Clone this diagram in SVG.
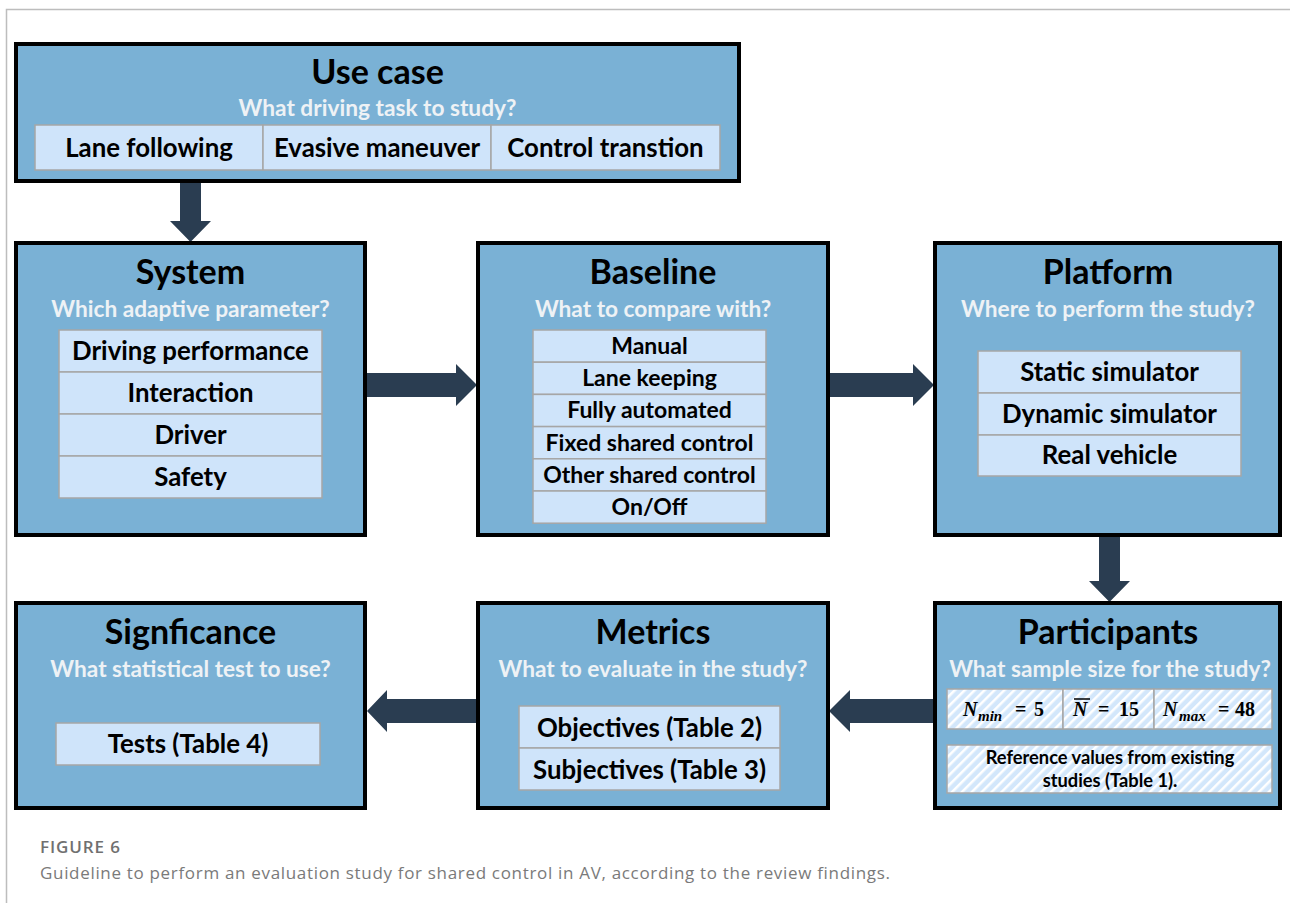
<svg xmlns="http://www.w3.org/2000/svg" width="1290" height="903" viewBox="0 0 1290 903">
<style>
.box{fill:#7ab1d5;stroke:#000;stroke-width:4}
.item{fill:#cfe4fa;stroke:#a6a6a6;stroke-width:1.5}
.hatch{fill:url(#hatch);stroke:#a6a6a6;stroke-width:1.5}
.title{font-family:Lato,"Liberation Sans",sans-serif;font-weight:700;font-size:34px;fill:#000;text-anchor:middle}
.sub{font-family:Lato,"Liberation Sans",sans-serif;font-weight:700;font-size:22.7px;fill:#eef2f5;text-anchor:middle}
.it{font-family:Lato,"Liberation Sans",sans-serif;font-weight:700;font-size:25.8px;fill:#000;text-anchor:middle}
.its{font-family:Lato,"Liberation Sans",sans-serif;font-weight:700;font-size:23px;fill:#000;text-anchor:middle}
.ref{font-family:Lato,"Liberation Sans",sans-serif;font-weight:700;font-size:18.3px;fill:#000;text-anchor:middle}
.m{font-family:"Liberation Serif",serif;font-weight:700;font-size:20px;fill:#000}
.mi{font-style:italic}
.arrow{fill:#2a3d51}
.cap1{font-family:"Open Sans","Liberation Sans",sans-serif;font-size:17px;letter-spacing:0.9px;fill:#707070;font-weight:600}
.cap2{font-family:"Open Sans","Liberation Sans",sans-serif;font-size:17px;letter-spacing:0.68px;fill:#7a7a7a;font-weight:400}
</style>
<defs>
<pattern id="hatch" patternUnits="userSpaceOnUse" width="7" height="7" patternTransform="rotate(45)">
<rect width="7" height="7" fill="#d3e7fb"/>
<rect x="0" y="0" width="2.5" height="7" fill="#ffffff"/>
</pattern>
</defs>
<rect width="1290" height="903" fill="#fff"/>
<path d="M6.5,903 V9.5 H1290" fill="none" stroke="#bdbdbd" stroke-width="1.5"/>

<g id="connectors">
<polygon class="arrow" points="180,183 201,183 201,221 211,221 190.5,242 170,221 180,221"/>
<polygon class="arrow" points="367,373 456,373 456,364 477,385 456,406 456,397 367,397"/>
<polygon class="arrow" points="830,373 913,373 913,364 934,385 913,406 913,397 830,397"/>
<polygon class="arrow" points="1099,537 1120,537 1120,581 1130,581 1109.5,602 1089,581 1099,581"/>
<polygon class="arrow" points="933,699 850,699 850,690 829,711 850,732 850,723 933,723"/>
<polygon class="arrow" points="476,699 387,699 387,690 367,711 387,732 387,723 476,723"/>
</g>

<g id="usecase">
<rect class="box" x="16" y="44" width="723" height="137"/>
<text class="title" x="377.5" y="84">Use case</text>
<text class="sub" x="377.5" y="116">What driving task to study?</text>
<rect class="item" x="35" y="125" width="228" height="45"/>
<rect class="item" x="263" y="125" width="228" height="45"/>
<rect class="item" x="491" y="125" width="229" height="45"/>
<text class="it" x="149" y="157">Lane following</text>
<text class="it" x="377" y="157">Evasive maneuver</text>
<text class="it" x="605.5" y="157">Control transtion</text>
</g>

<g id="system">
<rect class="box" x="16" y="243" width="349" height="292"/>
<text class="title" x="190.5" y="284">System</text>
<text class="sub" x="190.5" y="317">Which adaptive parameter?</text>
<rect class="item" x="59" y="330" width="263" height="42"/>
<rect class="item" x="59" y="372" width="263" height="42"/>
<rect class="item" x="59" y="414" width="263" height="42"/>
<rect class="item" x="59" y="456" width="263" height="42"/>
<text class="it" x="190.5" y="360">Driving performance</text>
<text class="it" x="190.5" y="402">Interaction</text>
<text class="it" x="190.5" y="444">Driver</text>
<text class="it" x="190.5" y="486">Safety</text>
</g>

<g id="baseline">
<rect class="box" x="478" y="243" width="350" height="292"/>
<text class="title" x="653" y="284">Baseline</text>
<text class="sub" x="653" y="317">What to compare with?</text>
<rect class="item" x="533" y="330" width="233" height="32.2"/>
<rect class="item" x="533" y="362.2" width="233" height="32.2"/>
<rect class="item" x="533" y="394.4" width="233" height="32.2"/>
<rect class="item" x="533" y="426.6" width="233" height="32.2"/>
<rect class="item" x="533" y="458.8" width="233" height="32.2"/>
<rect class="item" x="533" y="491" width="233" height="32.2"/>
<text class="its" x="649.5" y="354">Manual</text>
<text class="its" x="649.5" y="386">Lane keeping</text>
<text class="its" x="649.5" y="418">Fully automated</text>
<text class="its" x="649.5" y="450.5">Fixed shared control</text>
<text class="its" x="649.5" y="482.5">Other shared control</text>
<text class="its" x="649.5" y="515">On/Off</text>
</g>

<g id="platform">
<rect class="box" x="935" y="243" width="345" height="292"/>
<text class="title" x="1108" y="284">Platform</text>
<text class="sub" x="1108" y="317">Where to perform the study?</text>
<rect class="item" x="978" y="351" width="263" height="42"/>
<rect class="item" x="978" y="393" width="263" height="42"/>
<rect class="item" x="978" y="435" width="263" height="41"/>
<text class="it" x="1109.5" y="381">Static simulator</text>
<text class="it" x="1109.5" y="423">Dynamic simulator</text>
<text class="it" x="1109.5" y="464">Real vehicle</text>
</g>

<g id="significance">
<rect class="box" x="16" y="603" width="349" height="205"/>
<text class="title" x="190.5" y="644">Signficance</text>
<text class="sub" x="190.5" y="677">What statistical test to use?</text>
<rect class="item" x="56" y="723" width="264" height="42"/>
<text class="it" x="188" y="753">Tests (Table 4)</text>
</g>

<g id="metrics">
<rect class="box" x="478" y="603" width="350" height="205"/>
<text class="title" x="653" y="644">Metrics</text>
<text class="sub" x="653" y="677">What to evaluate in the study?</text>
<rect class="item" x="519" y="706" width="261" height="42"/>
<rect class="item" x="519" y="748" width="261" height="42"/>
<text class="it" x="649.5" y="737">Objectives (Table 2)</text>
<text class="it" x="649.5" y="779">Subjectives (Table 3)</text>
</g>

<g id="participants">
<rect class="box" x="935" y="603" width="345" height="205"/>
<text class="title" x="1108" y="644">Participants</text>
<text class="sub" x="1110" y="677">What sample size for the study?</text>
<rect class="hatch" x="947" y="689" width="116" height="40"/>
<rect class="hatch" x="1063" y="689" width="91" height="40"/>
<rect class="hatch" x="1154" y="689" width="118" height="40"/>
<text class="m" y="716"><tspan class="mi" x="963">N</tspan><tspan class="mi" x="978" y="721" font-size="15">min</tspan><tspan x="1015" y="716">=</tspan><tspan x="1034">5</tspan></text>
<line x1="1074" y1="699" x2="1090" y2="699" stroke="#000" stroke-width="1.5"/>
<text class="m" y="716"><tspan class="mi" x="1073">N</tspan><tspan x="1098">=</tspan><tspan x="1119">15</tspan></text>
<text class="m" y="716"><tspan class="mi" x="1163">N</tspan><tspan class="mi" x="1179" y="721" font-size="15">max</tspan><tspan x="1218" y="716">=</tspan><tspan x="1235">48</tspan></text>
<rect class="hatch" x="947" y="745" width="325" height="48"/>
<text class="ref" x="1110" y="764">Reference values from existing</text>
<text class="ref" x="1110" y="787">studies (Table 1).</text>
</g>

<text class="cap1" x="40" y="853">FIGURE 6</text>
<text class="cap2" x="40" y="879">Guideline to perform an evaluation study for shared control in AV, according to the review findings.</text>
</svg>
